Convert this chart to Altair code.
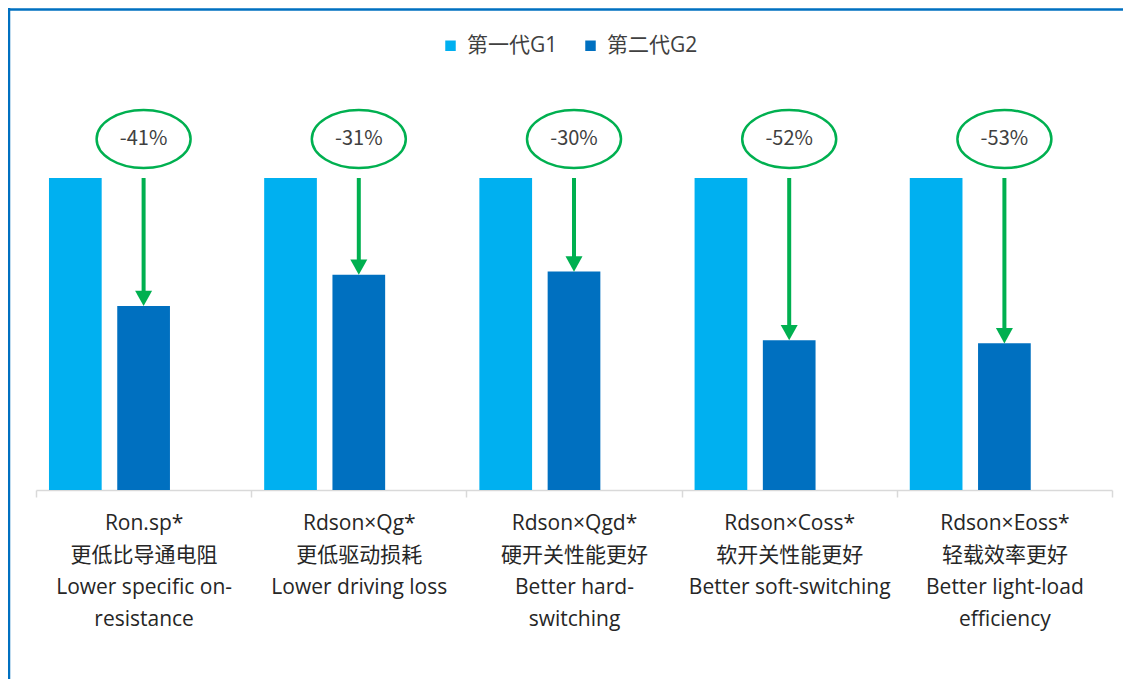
import altair as alt
import pandas as pd

categories = [
    "Ron.sp*|更低比导通电阻|Lower specific on-|resistance",
    "Rdson×Qg*|更低驱动损耗|Lower driving loss",
    "Rdson×Qgd*|硬开关性能更好|Better hard-|switching",
    "Rdson×Coss*|软开关性能更好|Better soft-switching",
    "Rdson×Eoss*|轻载效率更好|Better light-load|efficiency",
]
series = ["第一代G1", "第二代G2"]
g1_values = [100, 100, 100, 100, 100]
g2_values = [59, 69, 70, 48, 47]
reductions = ["-41%", "-31%", "-30%", "-52%", "-53%"]

colors = ["#00B0F0", "#0070C0"]
green = "#00B050"
mixed = "Open Sans, Noto Sans CJK SC"

long_rows = []
for c, a, b in zip(categories, g1_values, g2_values):
    long_rows.append({"category": c, "series": series[0], "value": a})
    long_rows.append({"category": c, "series": series[1], "value": b})
bars_df = pd.DataFrame(long_rows)

ann_df = pd.DataFrame({
    "category": categories,
    "series": [series[1]] * len(categories),
    "g1": g1_values,
    "g2": g2_values,
    "pct": reductions,
})

offset_domain = series + ["_gap"]
xoff_scale = alt.Scale(domain=offset_domain, paddingInner=0.228, paddingOuter=0.19)

x_enc = alt.X(
    "category:N",
    sort=categories,
    title=None,
    scale=alt.Scale(domain=categories, paddingInner=0, paddingOuter=0),
    axis=alt.Axis(
        labelExpr="split(datum.label, '|')",
        labelAngle=0,
        labelFont=mixed,
        labelFontSize=21,
        labelColor="#262626",
        labelLineHeight=32.3,
        labelPadding=15,
        labelLimit=0,
        domainColor="#D9D9D9",
        domainWidth=1.5,
        tickColor="#D9D9D9",
        tickWidth=1.5,
        tickSize=7,
        tickBand="extent",
        grid=False,
    ),
)
y_scale = alt.Scale(domain=[0, 154.5], nice=False, zero=True)

bars = alt.Chart(bars_df).mark_bar().encode(
    x=x_enc,
    xOffset=alt.XOffset("series:N", scale=xoff_scale),
    y=alt.Y("value:Q", scale=y_scale, axis=None),
    color=alt.Color(
        "series:N",
        scale=alt.Scale(domain=series, range=colors),
        legend=alt.Legend(
            title=None,
            orient="none",
            direction="horizontal",
            legendX=404,
            legendY=27,
            symbolType="square",
            symbolSize=110,
            symbolStrokeWidth=0,
            labelFont=mixed,
            labelFontSize=21,
            labelColor="#404040",
            labelOffset=6,
            columnPadding=22,
        ),
    ),
)

base = alt.Chart(ann_df).encode(
    x=x_enc,
    xOffset=alt.XOffset("series:N", scale=xoff_scale),
)

shaft = base.mark_rule(color=green, strokeWidth=4, y2Offset=-10).encode(
    y=alt.Y("g1:Q", scale=y_scale, axis=None),
    y2="g2:Q",
)

head = base.mark_point(
    shape="M-1,-0.9L1,-0.9L0,0.9Z", size=289, filled=True, color=green,
    opacity=1, yOffset=-7.6,
).encode(y=alt.Y("g2:Q", scale=y_scale, axis=None))

ellipse = base.mark_point(
    shape="M-1,0A1,0.617,0,1,1,1,0A1,0.617,0,1,1,-1,0Z",
    size=8836, filled=False, stroke=green, strokeWidth=2.5, opacity=1,
    yOffset=-39,
).encode(y=alt.Y("g1:Q", scale=y_scale, axis=None))

pct_text = base.mark_text(
    font="Noto Sans CJK SC", fontSize=20, color="#404040",
    baseline="middle", align="center", yOffset=-39,
).encode(
    y=alt.Y("g1:Q", scale=y_scale, axis=None),
    text="pct:N",
)

frame_data = alt.Data(values=[{"k": 1}])
frame_left = alt.Chart(frame_data).mark_rule(color="#0070C0", strokeWidth=2.5).encode(
    x=alt.value(-27), y=alt.value(0), y2=alt.value(800)
)
frame_top = alt.Chart(frame_data).mark_rule(color="#0070C0", strokeWidth=2.5).encode(
    x=alt.value(-28), x2=alt.value(1200), y=alt.value(1.5)
)

chart = alt.layer(
    frame_left, frame_top, bars, shaft, head, ellipse, pct_text
).properties(
    width=1076,
    height=482,
    autosize=alt.AutoSizeParams(type="none"),
    padding={"left": 28, "top": 0, "right": 11, "bottom": 189},
    background="white",
).configure_view(stroke=None)

chart.save("out.html", embed_options={"renderer": "svg", "actions": False})
